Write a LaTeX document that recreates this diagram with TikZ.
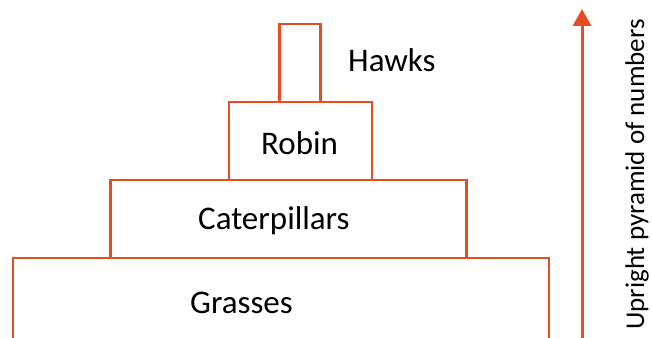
\documentclass[tikz,border=0pt]{standalone}
\usepackage{fontspec}
\setmainfont{Carlito}
\usetikzlibrary{positioning,arrows.meta}
\definecolor{pyrorange}{RGB}{231,76,36}

\begin{document}
\begin{tikzpicture}[x=1pt,y=-1pt]
        \tikzset{level/.style={draw=pyrorange, line width=2.8pt, inner sep=0pt},
                 lbl/.style={font=\fontsize{33}{38}\selectfont, inner sep=0pt}}
        \useasboundingbox (0,0) rectangle (652,337);

        % pyramid levels
        \begin{scope}
            \node[level, minimum width=41pt, minimum height=78pt] (hawkbox) at (300,63) {};
            \node[level, minimum width=143pt, minimum height=78pt] (robinbox) at (300.5,141) {};
            \node[level, minimum width=356pt, minimum height=78pt] (catbox) at (288.5,219) {};
            \node[level, minimum width=536pt, minimum height=120pt] (grassbox) at (281,318) {};
        \end{scope}

        % names
        \node[lbl, anchor=base west] (hawks) at (348,71) {Hawks};
        \node[lbl, anchor=base west] (robin) at (261,154) {Robin};
        \node[lbl, anchor=base west] (cater) at (198,229) {Caterpillars};
        \node[lbl, anchor=base west] (grass) at (190,313) {Grasses};

        % axis
        \coordinate (foot) at (582,345);
        \coordinate (tip) at (582,9);
        \begin{scope}[pyrorange, line width=3pt]
            \draw[-{Triangle[width=18pt,length=17pt]}] (foot) -- (tip);
        \end{scope}
        \node[lbl, font=\fontsize{27}{32}\selectfont, rotate=90, anchor=base west] (axis) at (644,330) {Upright pyramid of numbers};

        \end{tikzpicture}
\end{document}
